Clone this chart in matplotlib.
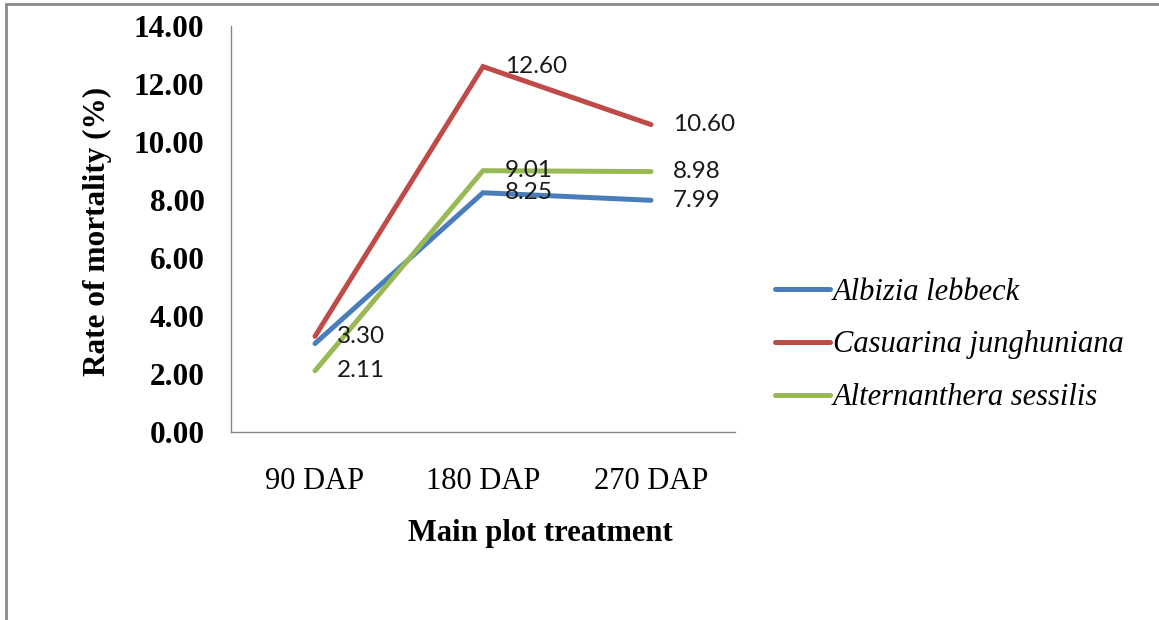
import matplotlib
matplotlib.use("Agg")
import matplotlib.pyplot as plt
from matplotlib.patches import Rectangle

# Data
categories = ["90 DAP", "180 DAP", "270 DAP"]
series_names = ["Albizia lebbeck", "Casuarina junghuniana", "Alternanthera sessilis"]
albizia = [3.05, 8.25, 7.99]
casuarina = [3.30, 12.60, 10.60]
alternanthera = [2.11, 9.01, 8.98]
albizia_labels = [False, True, True]
casuarina_labels = [True, True, True]
alternanthera_labels = [True, True, True]
yticks = [0, 2, 4, 6, 8, 10, 12, 14]

colors = ["#4a7ebb", "#be4b48", "#98b954"]
series = [albizia, casuarina, alternanthera]
show = [albizia_labels, casuarina_labels, alternanthera_labels]

W, H = 1159, 620
fig = plt.figure(figsize=(W / 100, H / 100), dpi=100)
fig.patch.set_facecolor("white")

ax = fig.add_axes([231 / W, 1 - 432 / H, 504 / W, 406 / H])
x = list(range(len(categories)))

handles = []
for vals, col, name, flags in zip(series, colors, series_names, show):
    (ln,) = ax.plot(x, vals, color=col, lw=3.6, solid_capstyle="round",
                    solid_joinstyle="miter", label=name)
    handles.append(ln)
    for xi, v, f in zip(x, vals, flags):
        if f:
            ax.annotate(f"{v:.2f}", (xi, v), xytext=(16, 0),
                        textcoords="offset points", ha="left", va="center",
                        fontsize=17.5, family="Lato", color="#1a1a1a")

ax.set_xlim(-0.5, 2.5)
ax.set_ylim(0, 14)
ax.set_yticks(yticks)
ax.set_yticklabels([f"{t:.2f}" for t in yticks], family="Liberation Serif",
                   fontweight="bold", fontsize=22.5)
ax.set_xticks(x)
ax.set_xticklabels(categories, family="Liberation Serif", fontsize=22)
ax.tick_params(axis="y", length=0, pad=19)
ax.tick_params(axis="x", length=0, pad=25)
for s in ["top", "right"]:
    ax.spines[s].set_visible(False)
for s in ["left", "bottom"]:
    ax.spines[s].set_color("#868686")
    ax.spines[s].set_linewidth(1.0)

fig.text(97 / W, 1 - 231 / H, "Rate of mortality (%)", rotation=90,
         ha="center", va="center", family="Liberation Serif",
         fontweight="bold", fontsize=22.5)
fig.text(540 / W, 1 - 533 / H, "Main plot treatment", ha="center",
         va="center", family="Liberation Serif", fontweight="bold",
         fontsize=22)

leg = fig.legend(handles=handles, loc="center left",
                 bbox_to_anchor=(775 / W, 1 - 345 / H), frameon=False,
                 borderpad=0, borderaxespad=0, handlelength=1.8,
                 handletextpad=0.1, labelspacing=0.78,
                 prop={"family": "Liberation Serif", "style": "italic",
                       "size": 22})

# Outer chart frame
fig.add_artist(Rectangle((6 / W, -0.2), 1.5, 1.2 - 4 / H, transform=fig.transFigure,
                         fill=False, edgecolor="#8a8a8a", lw=2.0))

fig.savefig("out.png", dpi=100, facecolor="white")
